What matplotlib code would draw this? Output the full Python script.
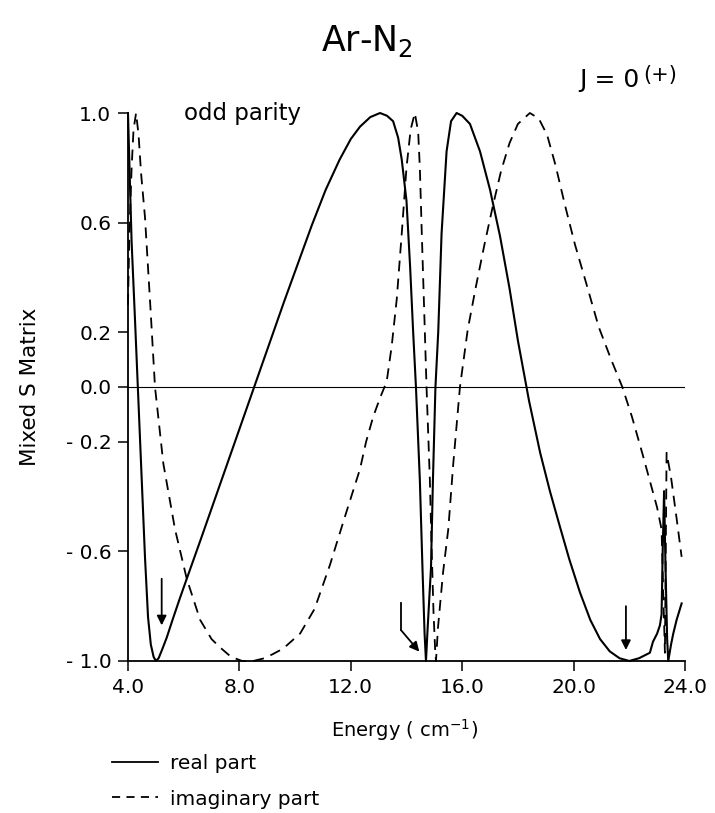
import matplotlib
matplotlib.use('Agg')
import matplotlib.pyplot as plt

# real part of the mixed S matrix (solid)
energy_real = [4.00, 4.06, 4.13, 4.25, 4.37, 4.49, 4.61, 4.72, 4.82, 4.92, 5.00,
               5.10, 5.22, 5.39, 5.60, 5.85, 6.11, 6.60, 7.10, 7.60, 8.10, 8.60,
               9.10, 9.60, 10.10, 10.60, 11.10, 11.60, 12.00, 12.33, 12.70, 13.05,
               13.30, 13.52, 13.70, 13.83, 14.00, 14.13, 14.24, 14.34, 14.48, 14.58,
               14.65, 14.70, 14.76, 14.88, 14.95, 15.04, 15.14, 15.26, 15.44, 15.60,
               15.80, 16.00, 16.28, 16.64, 17.00, 17.36, 17.70, 18.00, 18.40, 18.80,
               19.15, 19.51, 19.85, 20.23, 20.60, 20.95, 21.30, 21.65, 22.00, 22.35,
               22.74, 22.85, 23.00, 23.10, 23.16, 23.20, 23.25, 23.30, 23.36, 23.40,
               23.50, 23.58, 23.70, 23.88]
s_real = [1.00, 0.78, 0.53, 0.25, -0.04, -0.33, -0.62, -0.84, -0.94, -0.985, -1.00,
          -0.99, -0.96, -0.915, -0.85, -0.775, -0.70, -0.56, -0.415, -0.27, -0.125, 0.02,
          0.165, 0.31, 0.45, 0.59, 0.72, 0.83, 0.905, 0.95, 0.985, 1.00,
          0.99, 0.97, 0.91, 0.83, 0.68, 0.44, 0.20, 0.00, -0.34, -0.68,
          -0.90, -1.00, -0.88, -0.66, -0.34, 0.00, 0.20, 0.56, 0.86, 0.97,
          1.00, 0.99, 0.96, 0.86, 0.72, 0.55, 0.36, 0.17, -0.05, -0.24,
          -0.38, -0.51, -0.63, -0.75, -0.85, -0.92, -0.965, -0.99, -1.00, -0.99,
          -0.97, -0.93, -0.90, -0.87, -0.83, -0.60, -0.38, -0.65, -0.92, -1.00,
          -0.94, -0.90, -0.85, -0.79]

# imaginary part (dashed)
energy_imag = [4.00, 4.05, 4.13, 4.20, 4.29, 4.38, 4.47, 4.61, 4.80, 4.97, 5.27,
               5.69, 6.11, 6.59, 7.00, 7.30, 7.70, 8.10, 8.50, 8.90, 9.20, 9.57,
               10.18, 10.70, 11.25, 11.80, 12.33, 12.55, 12.80, 13.05, 13.29, 13.47,
               13.65, 13.83, 14.00, 14.15, 14.30, 14.42, 14.48, 14.55, 14.66, 14.72,
               14.84, 14.90, 14.97, 15.03, 15.06, 15.13, 15.31, 15.50, 15.68, 15.92,
               16.20, 16.50, 16.80, 17.10, 17.40, 17.70, 18.00, 18.43, 18.75, 19.05,
               19.35, 19.70, 20.05, 20.45, 20.90, 21.35, 21.75, 22.10, 22.49, 23.00,
               23.16, 23.22, 23.28, 23.31, 23.34, 23.50, 23.70, 23.88]
s_imag = [0.30, 0.56, 0.80, 0.94, 1.00, 0.92, 0.78, 0.62, 0.30, 0.00, -0.28,
          -0.52, -0.70, -0.85, -0.92, -0.95, -0.985, -1.00, -1.00, -0.99, -0.975, -0.955,
          -0.90, -0.81, -0.65, -0.47, -0.30, -0.20, -0.11, -0.04, 0.02, 0.15,
          0.32, 0.56, 0.80, 0.94, 1.00, 0.93, 0.80, 0.56, 0.20, 0.00,
          -0.34, -0.58, -0.82, -0.96, -1.00, -0.88, -0.68, -0.52, -0.28, 0.00,
          0.21, 0.37, 0.52, 0.66, 0.79, 0.89, 0.96, 1.00, 0.98, 0.92,
          0.81, 0.66, 0.52, 0.38, 0.22, 0.10, 0.00, -0.11, -0.25, -0.44,
          -0.52, -0.75, -0.97, -0.60, -0.24, -0.33, -0.48, -0.62]

y_ticks = [1.0, 0.6, 0.2, 0.0, -0.2, -0.6, -1.0]
y_tick_labels = ['1.0', '0.6', '0.2', '0.0', '- 0.2', '- 0.6', '- 1.0']
x_ticks = [4, 8, 12, 16, 20, 24]
x_tick_labels = ['4.0', '8.0', '12.0', '16.0', '20.0', '24.0']

# straight arrows marking resonances: (x, y_tail, y_head)
arrows = [(5.21, -0.70, -0.87), (21.88, -0.80, -0.96)]
# bent arrow near 14.5: vertical stroke then diagonal head
bent_x = [13.80, 13.80, 14.46]
bent_y = [-0.79, -0.887, -0.966]

fig = plt.figure(figsize=(7.15, 8.13), dpi=100)
ax = fig.add_axes([0.179, 0.187, 0.779, 0.674])

ax.plot(energy_real, s_real, color='black', lw=1.5, clip_on=False)
ax.plot(energy_imag, s_imag, color='black', lw=1.3, dashes=(6, 4), clip_on=False)
ax.axhline(0.0, color='black', lw=0.8)

for x, y0, y1 in arrows:
    ax.annotate('', xy=(x, y1), xytext=(x, y0),
                arrowprops=dict(arrowstyle='-|>', color='black', lw=1.3,
                                mutation_scale=14, shrinkA=0, shrinkB=0))
ax.plot(bent_x[:2], bent_y[:2], color='black', lw=1.3)
ax.annotate('', xy=(bent_x[2], bent_y[2]), xytext=(bent_x[1], bent_y[1]),
            arrowprops=dict(arrowstyle='-|>', color='black', lw=1.3,
                            mutation_scale=14, shrinkA=0, shrinkB=0))

ax.set_xlim(4, 24)
ax.set_ylim(-1, 1)
ax.set_xticks(x_ticks)
ax.set_xticklabels(x_tick_labels)
ax.set_yticks(y_ticks)
ax.set_yticklabels(y_tick_labels)
ax.tick_params(direction='out', length=7, width=1.1, labelsize=14.5, pad=5)
for side in ['top', 'right']:
    ax.spines[side].set_visible(False)
for side in ['left', 'bottom']:
    ax.spines[side].set_linewidth(1.3)

ax.text(6.0, 1.0, 'odd parity', fontsize=16.5, va='center', ha='left')

fig.text(0.513, 0.950, 'Ar-N$_2$', fontsize=25, ha='center', va='center')
fig.text(0.895, 0.902, 'J = 0', fontsize=18, ha='right', va='center')
fig.text(0.900, 0.908, '(+)', fontsize=15, ha='left', va='center')
fig.text(0.042, 0.524, 'Mixed S Matrix', fontsize=15.5, rotation=90,
         ha='center', va='center')
fig.text(0.566, 0.102, 'Energy ( cm$^{-1}$)', fontsize=14, ha='center', va='center')

leg_real, = ax.plot([], [], color='black', lw=1.3)
leg_imag, = ax.plot([], [], color='black', lw=1.3, dashes=(4.5, 3.5))
fig.legend([leg_real, leg_imag], ['real part', 'imaginary part'],
           loc='upper left', bbox_to_anchor=(0.145, 0.082),
           frameon=False, fontsize=14.5, handlelength=2.3, handletextpad=0.6,
           labelspacing=0.8, borderaxespad=0)

fig.savefig('out.png', dpi=100)
